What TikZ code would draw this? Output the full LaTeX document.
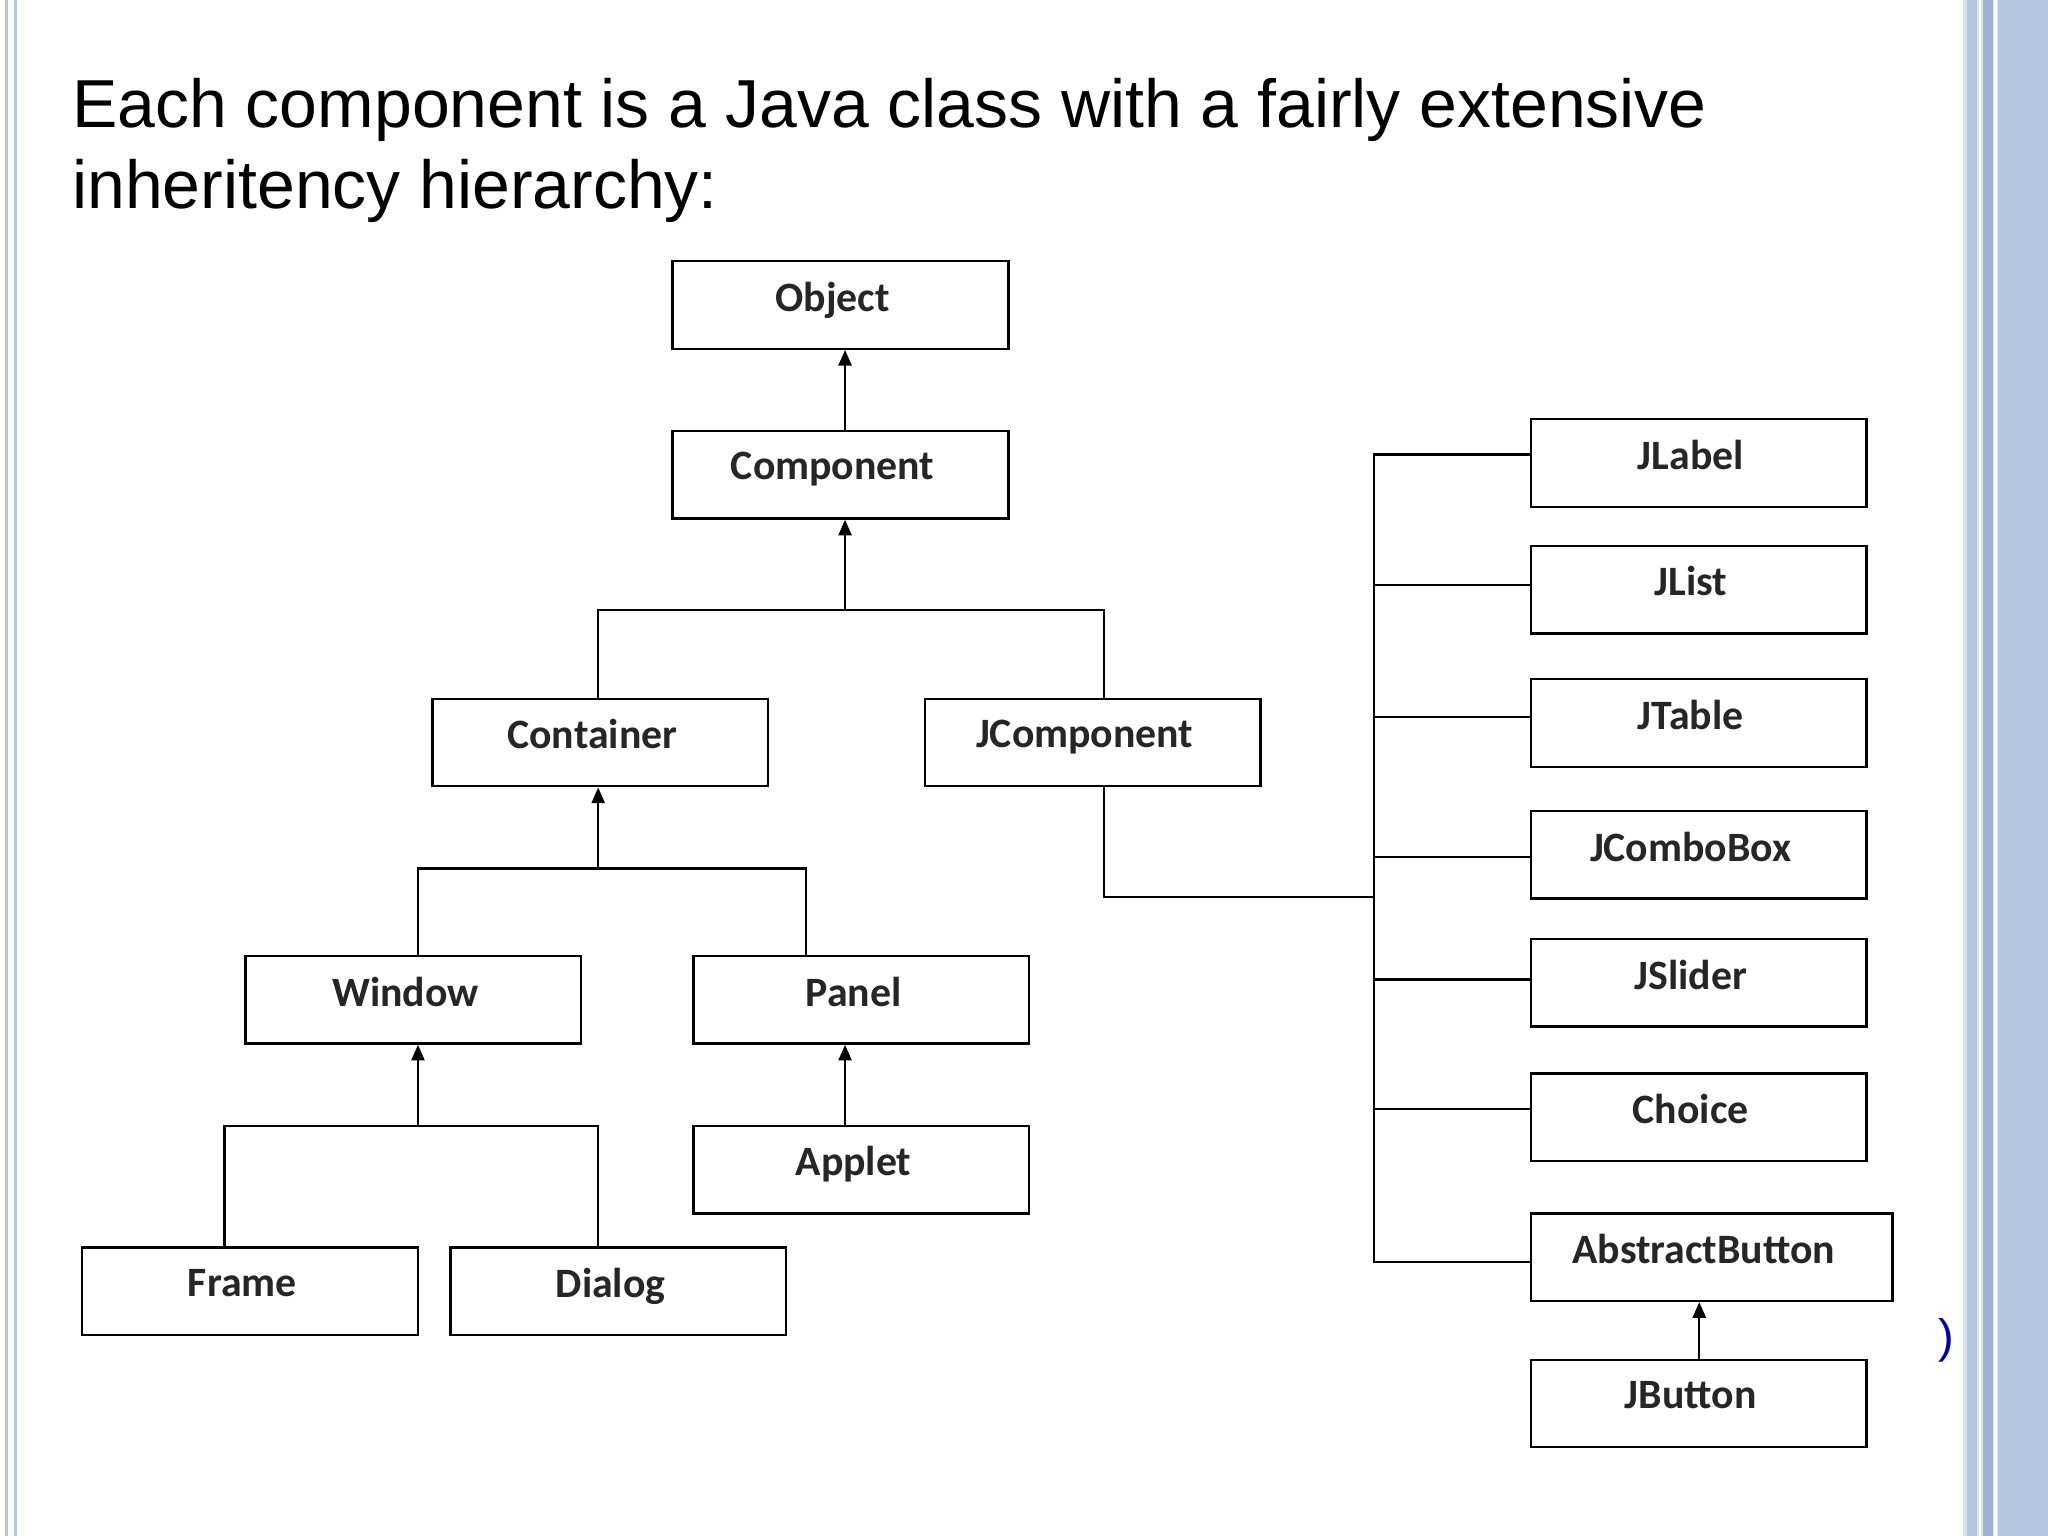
\documentclass[tikz,border=0pt]{standalone}
\usepackage{fontspec}
\setmainfont{Liberation Sans}
\newfontfamily\boxfont{Carlito}
\usetikzlibrary{arrows.meta}
\definecolor{edgeblue}{HTML}{B7C6E0}
\definecolor{edgedark}{HTML}{9FB2D3}
\begin{document}
\begin{tikzpicture}[x=0.5pt,y=-0.5pt,
  cls/.style={draw, line width=0.9pt, minimum width=128.5pt, minimum height=33.5pt, inner sep=0pt,
     font=\boxfont\bfseries\fontsize{16}{18}\selectfont, text=black!85},
  wide/.style={minimum width=138.5pt},
  ln/.style={line width=0.9pt},
  arr/.style={line width=0.9pt,-{Triangle[length=6pt,width=5pt]}}]
\useasboundingbox (0,0) rectangle (1568,1176);
\fill[white] (0,0) rectangle (1568,1176);
% slide borders
\draw[edgeblue, line width=1.5pt] (5,0) -- (5,1176);
\draw[edgeblue, line width=1pt] (12,0) -- (12,1176);
\fill[edgeblue!50] (1503,0) rectangle (1568,1176);
\fill[edgeblue] (1506,0) rectangle (1514,1176);
\fill[edgedark] (1518,0) rectangle (1526,1176);
\fill[edgeblue] (1530,0) rectangle (1568,1176);
\draw[white, line width=1pt] (1516,0) -- (1516,1176);
\draw[white, line width=1pt] (1528,0) -- (1528,1176);
% title
\node[anchor=base west, font=\fontsize{26}{30}\selectfont, inner sep=0] (t1) at (55,98) {Each component is a Java class with a fairly extensive};
\node[anchor=base west, font=\fontsize{26}{30}\selectfont, inner sep=0] (t2) at (55,160) {inheritency hierarchy:};
\node[text=blue!70!black, font=\fontsize{18}{20}\selectfont, inner sep=0] (par) at (1490,1026) {)};
% classes
\newcommand\cl[4][]{\node[cls,#1] (#2) at #3 {\hspace*{-6pt}\raisebox{6.5pt}{#4}};}
\cl{obj}{(643.5,233.5)}{Object}
\cl{comp}{(643.5,363.5)}{Component}
\cl{cont}{(459.5,568.5)}{Container}
\cl{jcomp}{(836.5,568.5)}{JComponent}
\cl{win}{(316.5,765.5)}{Window}
\cl{pan}{(659.5,765.5)}{Panel}
\cl{app}{(659.5,895.5)}{Applet}
\cl{frm}{(191.5,988.5)}{Frame}
\cl{dlg}{(473.5,988.5)}{Dialog}
\cl{jl}{(1300.5,354.5)}{JLabel}
\cl{jli}{(1300.5,451.5)}{JList}
\cl{jt}{(1300.5,553.5)}{JTable}
\cl{jcb}{(1300.5,654.5)}{JComboBox}
\cl{js}{(1300.5,752.5)}{JSlider}
\cl{ch}{(1300.5,855.5)}{Choice}
\cl[wide]{ab}{(1310.5,962.5)}{AbstractButton}
\cl{jb}{(1300.5,1074.5)}{JButton}
% connectors
\draw[arr] (comp.north -| 647,0) -- (obj.south -| 647,0);
\coordinate (h1) at (647,467);
\draw[ln] (cont.north -| 458,0) |- (h1) -| (jcomp.north -| 845,0);
\draw[arr] (h1) -- (comp.south -| 647,0);
\coordinate (h2) at (458,665);
\draw[ln] (win.north -| 320,0) |- (h2) -| (pan.north -| 617,0);
\draw[arr] (h2) -- (cont.south -| 458,0);
\coordinate (h3) at (320,862);
\draw[ln] (frm.north -| 172,0) |- (h3) -| (dlg.north -| 458,0);
\draw[arr] (h3) -- (win.south -| 320,0);
\draw[arr] (app.north -| 647,0) -- (pan.south -| 647,0);
\draw[arr] (jb.north -| 1301,0) -- (ab.south -| 1301,0);
\coordinate (bus) at (1052,687);
\draw[ln] (jcomp.south -| 845,0) |- (bus);
\draw[ln] (jl.west |- 0,348) -- (1052,348) -- (1052,966) -- (ab.west |- 0,966);
\foreach \n/\y in {jli/448, jt/549, jcb/656, js/750, ch/849}
  \draw[ln] (1052,\y) -- (\n.west |- 0,\y);
\end{tikzpicture}
\end{document}
